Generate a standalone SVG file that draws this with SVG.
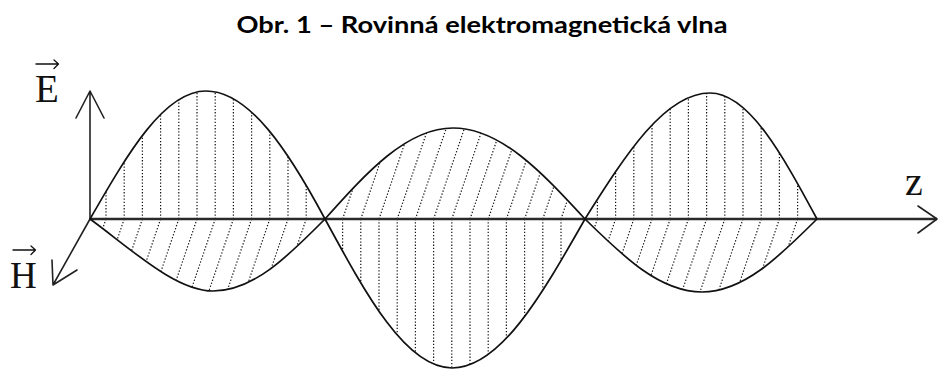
<svg xmlns="http://www.w3.org/2000/svg" width="939" height="370" viewBox="0 0 939 370">
<style>
.title{font-family:Lato,"Open Sans","Liberation Sans",sans-serif;font-weight:bold;font-size:22px;fill:#000}
.lbl{font-family:"Liberation Serif","DejaVu Serif",serif;fill:#111}
.ax{fill:none;stroke:#222;stroke-width:1.6;stroke-linecap:round;stroke-linejoin:round}
.zax{fill:none;stroke:#2a2a2a;stroke-width:2.4}
.wave{fill:none;stroke:#111;stroke-width:1.7;stroke-linejoin:round}
.dots{fill:none;stroke:#111;stroke-width:1.2;stroke-dasharray:1.3 1.9}
.vec{fill:none;stroke:#111;stroke-width:1.3;stroke-linecap:round;stroke-linejoin:round}
</style>
<defs>
<clipPath id="clipE"><path d="M90,219 C127.8,153.4 164,91 206,91 C249.1,91 288,150 325,219 C366.4,295.3 406,368 452,368 C500.1,368 541.6,295.3 585,219 C625.8,154.5 664.8,93 710,93 C748.7,93 782.1,154.5 817,219 Z"/></clipPath>
<clipPath id="clipH"><path d="M90,219 C130,248 175,291 213,291 C253.5,291 288.5,255.9 325,219 C366.7,172.4 406.7,128 453,128 C500.8,128 542,172.4 585,219 C623.1,256.4 659.6,292 702,292 C743.6,292 779.5,256.4 817,219 Z"/></clipPath>
</defs>
<text class="title" x="482" y="33" text-anchor="middle" textLength="491" lengthAdjust="spacingAndGlyphs">Obr. 1 – Rovinná elektromagnetická vlna</text>
<g id="hatching">
<path class="dots" clip-path="url(#clipE)" d="M106,219V88M124.2,219V88M142.4,219V88M160.6,219V88M178.8,219V88M197,219V88M215.2,219V88M233.4,219V88M251.6,219V88M269.8,219V88M288,219V88M306.2,219V88M342.6,219V370M360.8,219V370M379,219V370M397.2,219V370M415.4,219V370M433.6,219V370M451.8,219V370M470,219V370M488.2,219V370M506.4,219V370M524.6,219V370M542.8,219V370M561,219V370M597.4,219V88M615.6,219V88M633.8,219V88M652,219V88M670.2,219V88M688.4,219V88M706.6,219V88M724.8,219V88M743,219V88M761.2,219V88M779.4,219V88M797.6,219V88"/>
<path class="dots" clip-path="url(#clipH)" d="M106,219l-27.2,80M124.2,219l-27.2,80M142.4,219l-27.2,80M160.6,219l-27.2,80M178.8,219l-27.2,80M197,219l-27.2,80M215.2,219l-27.2,80M233.4,219l-27.2,80M251.6,219l-27.2,80M269.8,219l-27.2,80M288,219l-27.2,80M306.2,219l-27.2,80M342.6,219l32.3,-95M360.8,219l32.3,-95M379,219l32.3,-95M397.2,219l32.3,-95M415.4,219l32.3,-95M433.6,219l32.3,-95M451.8,219l32.3,-95M470,219l32.3,-95M488.2,219l32.3,-95M506.4,219l32.3,-95M524.6,219l32.3,-95M542.8,219l32.3,-95M561,219l32.3,-95M597.4,219l-27.2,80M615.6,219l-27.2,80M633.8,219l-27.2,80M652,219l-27.2,80M670.2,219l-27.2,80M688.4,219l-27.2,80M706.6,219l-27.2,80M724.8,219l-27.2,80M743,219l-27.2,80M761.2,219l-27.2,80M779.4,219l-27.2,80M797.6,219l-27.2,80"/>
</g>
<g id="axes">
<path id="z-axis" class="zax" d="M90,219H937"/>
<path class="ax" d="M918,206L937,219L918,233"/>
<path id="e-axis" class="ax" d="M90,219V91M76,118L90,91L104,118"/>
<path id="h-axis" class="ax" d="M90,219L53,285M52,260L53,285L77,270"/>
</g>
<g id="waves">
<path id="e-wave" class="wave" d="M90,219 C127.8,153.4 164,91 206,91 C249.1,91 288,150 325,219 C366.4,295.3 406,368 452,368 C500.1,368 541.6,295.3 585,219 C625.8,154.5 664.8,93 710,93 C748.7,93 782.1,154.5 817,219"/>
<path id="h-wave" class="wave" d="M90,219 C130,248 175,291 213,291 C253.5,291 288.5,255.9 325,219 C366.7,172.4 406.7,128 453,128 C500.8,128 542,172.4 585,219 C623.1,256.4 659.6,292 702,292 C743.6,292 779.5,256.4 817,219"/>
</g>
<g id="label-E">
<text class="lbl" x="35" y="102" font-size="39">E</text>
<path class="vec" d="M36,64H58M54,60L58.5,64L54,68.5"/>
</g>
<g id="label-H">
<text class="lbl" x="10" y="288" font-size="37">H</text>
<path class="vec" d="M13,250H35M31,246L35.5,250L31,254.5"/>
</g>
<g id="label-z">
<text class="lbl" x="905" y="195" font-size="40">z</text>
</g>
</svg>
